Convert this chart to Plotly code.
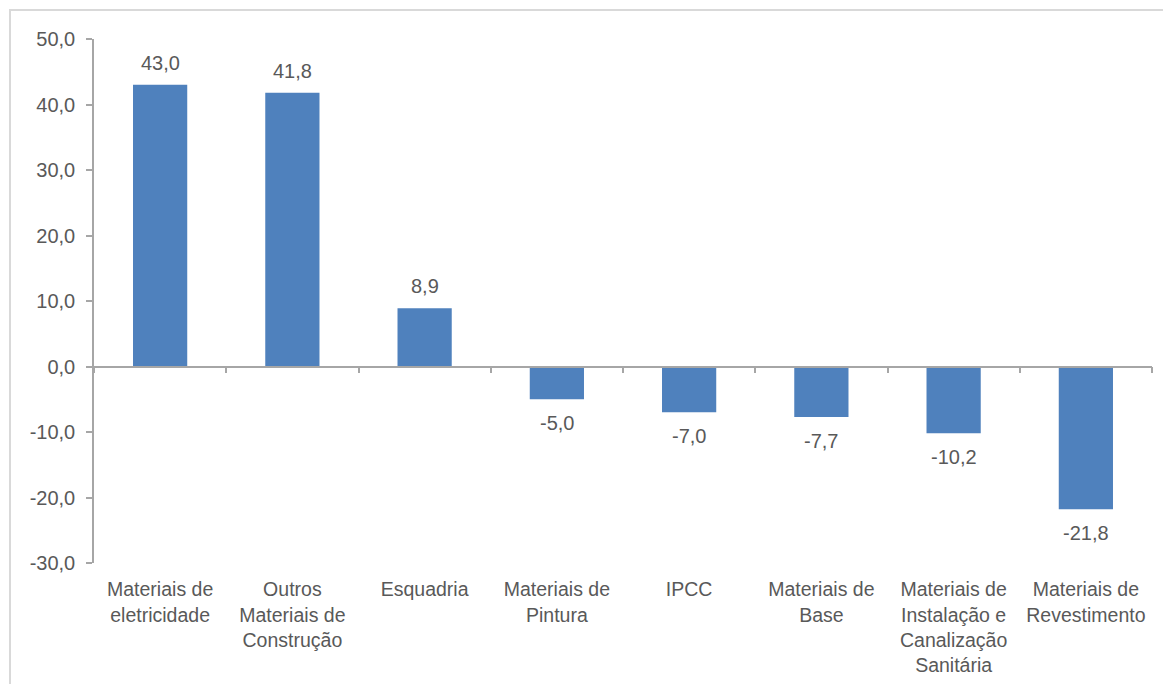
import plotly.graph_objects as go

categories = [
    "Materiais de<br>eletricidade",
    "Outros<br>Materiais de<br>Construção",
    "Esquadria",
    "Materiais de<br>Pintura",
    "IPCC",
    "Materiais de<br>Base",
    "Materiais de<br>Instalação e<br>Canalização<br>Sanitária",
    "Materiais de<br>Revestimento",
]
values = [43.0, 41.8, 8.9, -5.0, -7.0, -7.7, -10.2, -21.8]
y_ticks = [-30, -20, -10, 0, 10, 20, 30, 40, 50]
y_range = [-30, 50]


def fmt(v):
    return f"{v:.1f}".replace(".", ",")


FONT = "Liberation Sans, Arial, sans-serif"
TXT = "#595959"
AX = "#a6a6a6"
BAR = "#4f81bd"

fig = go.Figure()
fig.add_trace(go.Bar(
    x=categories, y=values, marker=dict(color=BAR, line=dict(width=0)),
    width=0.41, hoverinfo="skip", showlegend=False,
))
# invisible twin trace to drive the zero-line category axis
fig.add_trace(go.Scatter(
    x=categories, y=values, xaxis="x2", mode="markers",
    marker=dict(opacity=0), hoverinfo="skip", showlegend=False,
))

for c, v in zip(categories, values):
    fig.add_annotation(
        x=c, y=v, text=fmt(v), showarrow=False,
        yanchor="bottom" if v >= 0 else "top",
        yshift=9 if v >= 0 else -11,
        font=dict(family=FONT, size=20, color=TXT),
    )

zero_pos = (0 - y_range[0]) / (y_range[1] - y_range[0])

# the page body has an 8px margin; the figure is sized/offset to compensate
fig.update_layout(
    width=1163, height=676,
    margin=dict(l=86, r=19, t=31, b=121, autoexpand=False),
    paper_bgcolor="white", plot_bgcolor="white",
    font=dict(family=FONT, size=20, color=TXT),
    xaxis=dict(
        type="category", range=[-0.5, len(categories) - 0.5], automargin=False,
        showline=False, showgrid=False, zeroline=False,
        ticks="outside", ticklen=9, tickcolor="rgba(0,0,0,0)",
        tickfont=dict(family=FONT, size=19.5, color=TXT),
    ),
    xaxis2=dict(
        type="category", overlaying="x", anchor="free", position=zero_pos,
        range=[-0.5, len(categories) - 0.5], automargin=False,
        showline=True, linecolor=AX, linewidth=1.5,
        ticks="outside", ticklen=6, tickcolor=AX, tickwidth=1.5,
        tickson="boundaries", showticklabels=False, showgrid=False, zeroline=False,
    ),
    yaxis=dict(
        range=y_range, tickvals=y_ticks, ticktext=[fmt(t) for t in y_ticks],
        automargin=False, ticklabelstandoff=7,
        showline=True, linecolor=AX, linewidth=1.5,
        ticks="outside", ticklen=6, tickcolor=AX, tickwidth=1.5,
        showgrid=False, zeroline=False,
        tickfont=dict(family=FONT, size=20, color=TXT),
    ),
    shapes=[dict(
        type="rect", xref="paper", yref="paper",
        x0=(2 - 86) / 1058, x1=1.2, y0=-0.5, y1=(555 - 2) / 524,
        line=dict(color="#d9d9d9", width=2), fillcolor="rgba(0,0,0,0)",
        layer="below",
    )],
)

fig.write_html("out.html")
